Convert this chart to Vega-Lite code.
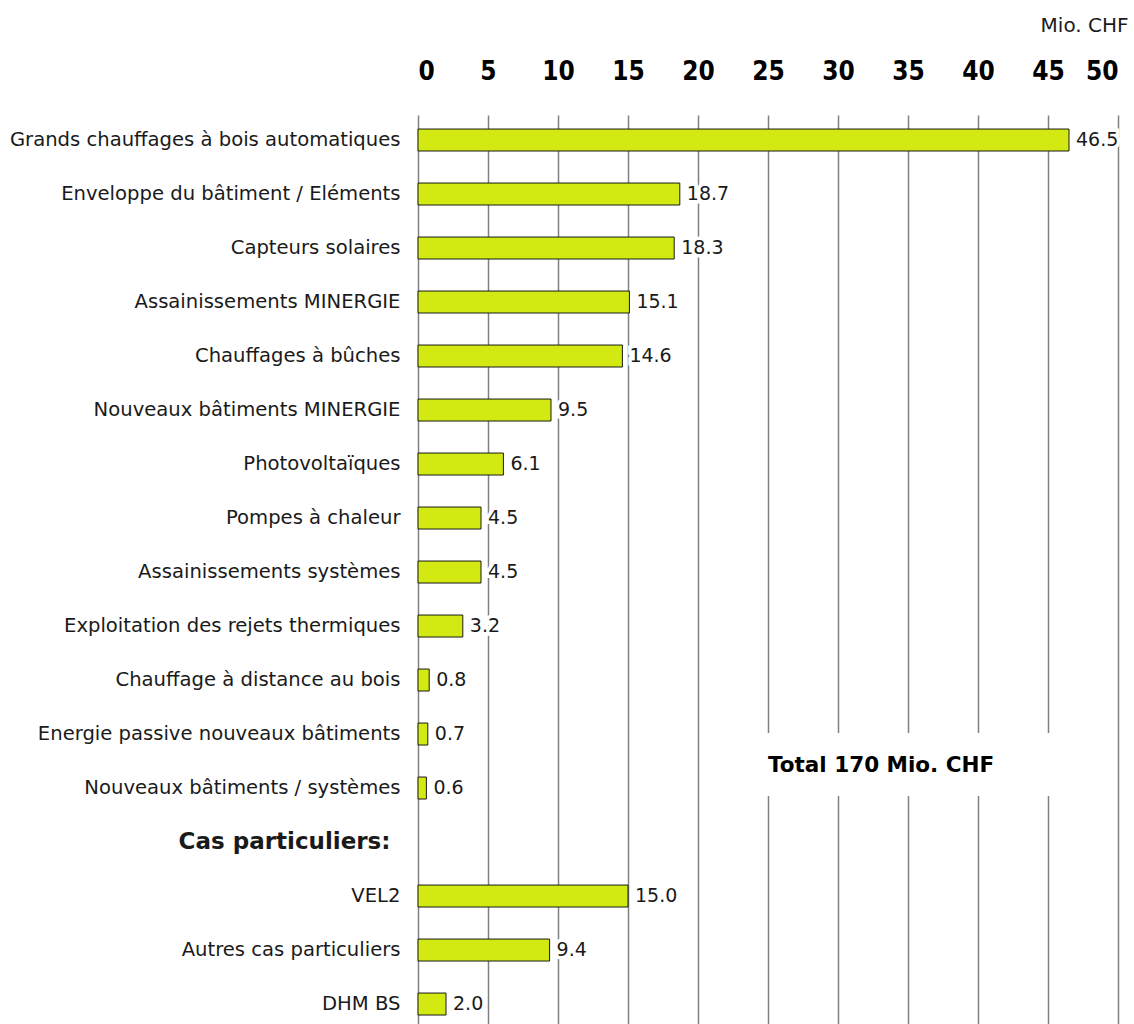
{
  "$schema": "https://vega.github.io/schema/vega-lite/v6.json",
  "autosize": {"type": "none"},
  "width": 700,
  "height": 909,
  "padding": {"left": 418, "top": 115, "right": 16, "bottom": 0},
  "background": "white",
  "config": {"view": {"stroke": null}, "font": "DejaVu Sans"},
  "data": {
    "values": [
      {"categorie": "Grands chauffages à bois automatiques", "valeur": 46.5},
      {"categorie": "Enveloppe du bâtiment / Eléments", "valeur": 18.7},
      {"categorie": "Capteurs solaires", "valeur": 18.3},
      {"categorie": "Assainissements MINERGIE", "valeur": 15.1},
      {"categorie": "Chauffages à bûches", "valeur": 14.6},
      {"categorie": "Nouveaux bâtiments MINERGIE", "valeur": 9.5},
      {"categorie": "Photovoltaïques", "valeur": 6.1},
      {"categorie": "Pompes à chaleur", "valeur": 4.5},
      {"categorie": "Assainissements systèmes", "valeur": 4.5},
      {"categorie": "Exploitation des rejets thermiques", "valeur": 3.2},
      {"categorie": "Chauffage à distance au bois", "valeur": 0.8},
      {"categorie": "Energie passive nouveaux bâtiments", "valeur": 0.7},
      {"categorie": "Nouveaux bâtiments / systèmes", "valeur": 0.6},
      {"categorie": "Cas particuliers:", "valeur": null},
      {"categorie": "VEL2", "valeur": 15.0},
      {"categorie": "Autres cas particuliers", "valeur": 9.4},
      {"categorie": "DHM BS", "valeur": 2.0}
    ]
  },
  "encoding": {
    "y": {
      "field": "categorie",
      "type": "nominal",
      "sort": null,
      "scale": {
        "domain": [
          "Grands chauffages à bois automatiques",
          "Enveloppe du bâtiment / Eléments",
          "Capteurs solaires",
          "Assainissements MINERGIE",
          "Chauffages à bûches",
          "Nouveaux bâtiments MINERGIE",
          "Photovoltaïques",
          "Pompes à chaleur",
          "Assainissements systèmes",
          "Exploitation des rejets thermiques",
          "Chauffage à distance au bois",
          "Energie passive nouveaux bâtiments",
          "Nouveaux bâtiments / systèmes",
          "Cas particuliers:",
          "VEL2",
          "Autres cas particuliers",
          "DHM BS"
        ],
        "paddingInner": 0.593,
        "paddingOuter": 0.213,
        "align": 0.61
      },
      "axis": {
        "title": null,
        "domain": false,
        "ticks": false,
        "grid": false,
        "labelFont": "DejaVu Sans",
        "labelFontSize": {"condition": {"test": "datum.value === 'Cas particuliers:'", "value": 23}, "value": 19.6},
        "labelColor": "#1a1a1a",
        "labelPadding": {"condition": {"test": "datum.value === 'Cas particuliers:'", "value": 28}, "value": 18},
        "labelFontWeight": {"condition": {"test": "datum.value === 'Cas particuliers:'", "value": "bold"}, "value": "normal"},
        "labelLimit": 500
      }
    }
  },
  "layer": [
    {
      "mark": {"type": "bar", "color": "#d3e912", "stroke": "#1a1a1a", "strokeWidth": 1},
      "encoding": {
        "x": {
          "field": "valeur",
          "type": "quantitative",
          "scale": {"domain": [0, 50], "nice": false},
          "axis": {
            "orient": "top",
            "values": [0, 5, 10, 15, 20, 25, 30, 35, 40, 45, 50],
            "domain": false,
            "ticks": false,
            "grid": true,
            "gridColor": "#808080",
            "gridWidth": 1.5,
            "labelFont": "DejaVu Sans Condensed, Liberation Sans",
            "labelFontWeight": "bold",
            "labelFontSize": 26,
            "labelColor": "#000000",
            "labelPadding": 31,
            "title": "Mio. CHF",
            "titleFont": "DejaVu Sans",
            "titleFontSize": 20,
            "titleFontWeight": "normal",
            "titleColor": "#1a1a1a",
            "titleAnchor": "end",
            "titleAlign": "right",
            "titleX": 710,
            "titleY": -84,
            "titleBaseline": "alphabetic"
          }
        }
      }
    },
    {
      "data": {"values": [{"zone": "total"}]},
      "mark": {"type": "rect", "fill": "white", "strokeWidth": 0},
      "encoding": {
        "x": {"datum": 24.5, "type": "quantitative"},
        "x2": {"datum": 45.4},
        "y": {"datum": "Energie passive nouveaux bâtiments", "bandPosition": 0.45},
        "y2": {"datum": "Nouveaux bâtiments / systèmes", "bandPosition": 0.86}
      }
    },
    {
      "data": {"values": [{"libelle": "Total 170 Mio. CHF"}]},
      "mark": {"type": "text", "align": "left", "baseline": "middle", "fontWeight": "bold", "fontSize": 21.5, "font": "DejaVu Sans", "fill": "#000000", "dy": 32},
      "encoding": {
        "x": {"datum": 25, "type": "quantitative"},
        "y": {"datum": "Energie passive nouveaux bâtiments"},
        "text": {"field": "libelle", "type": "nominal"}
      }
    },
    {
      "mark": {"type": "text", "align": "left", "baseline": "middle", "dx": 7, "fontSize": 19, "font": "DejaVu Sans", "stroke": "white", "strokeWidth": 7, "fill": "white"},
      "encoding": {
        "x": {"field": "valeur", "type": "quantitative"},
        "text": {"field": "valeur", "type": "quantitative", "format": ".1f"}
      }
    },
    {
      "mark": {"type": "text", "align": "left", "baseline": "middle", "dx": 7, "fontSize": 19, "font": "DejaVu Sans", "fill": "#1a1a1a"},
      "encoding": {
        "x": {"field": "valeur", "type": "quantitative"},
        "text": {"field": "valeur", "type": "quantitative", "format": ".1f"}
      }
    }
  ]
}
